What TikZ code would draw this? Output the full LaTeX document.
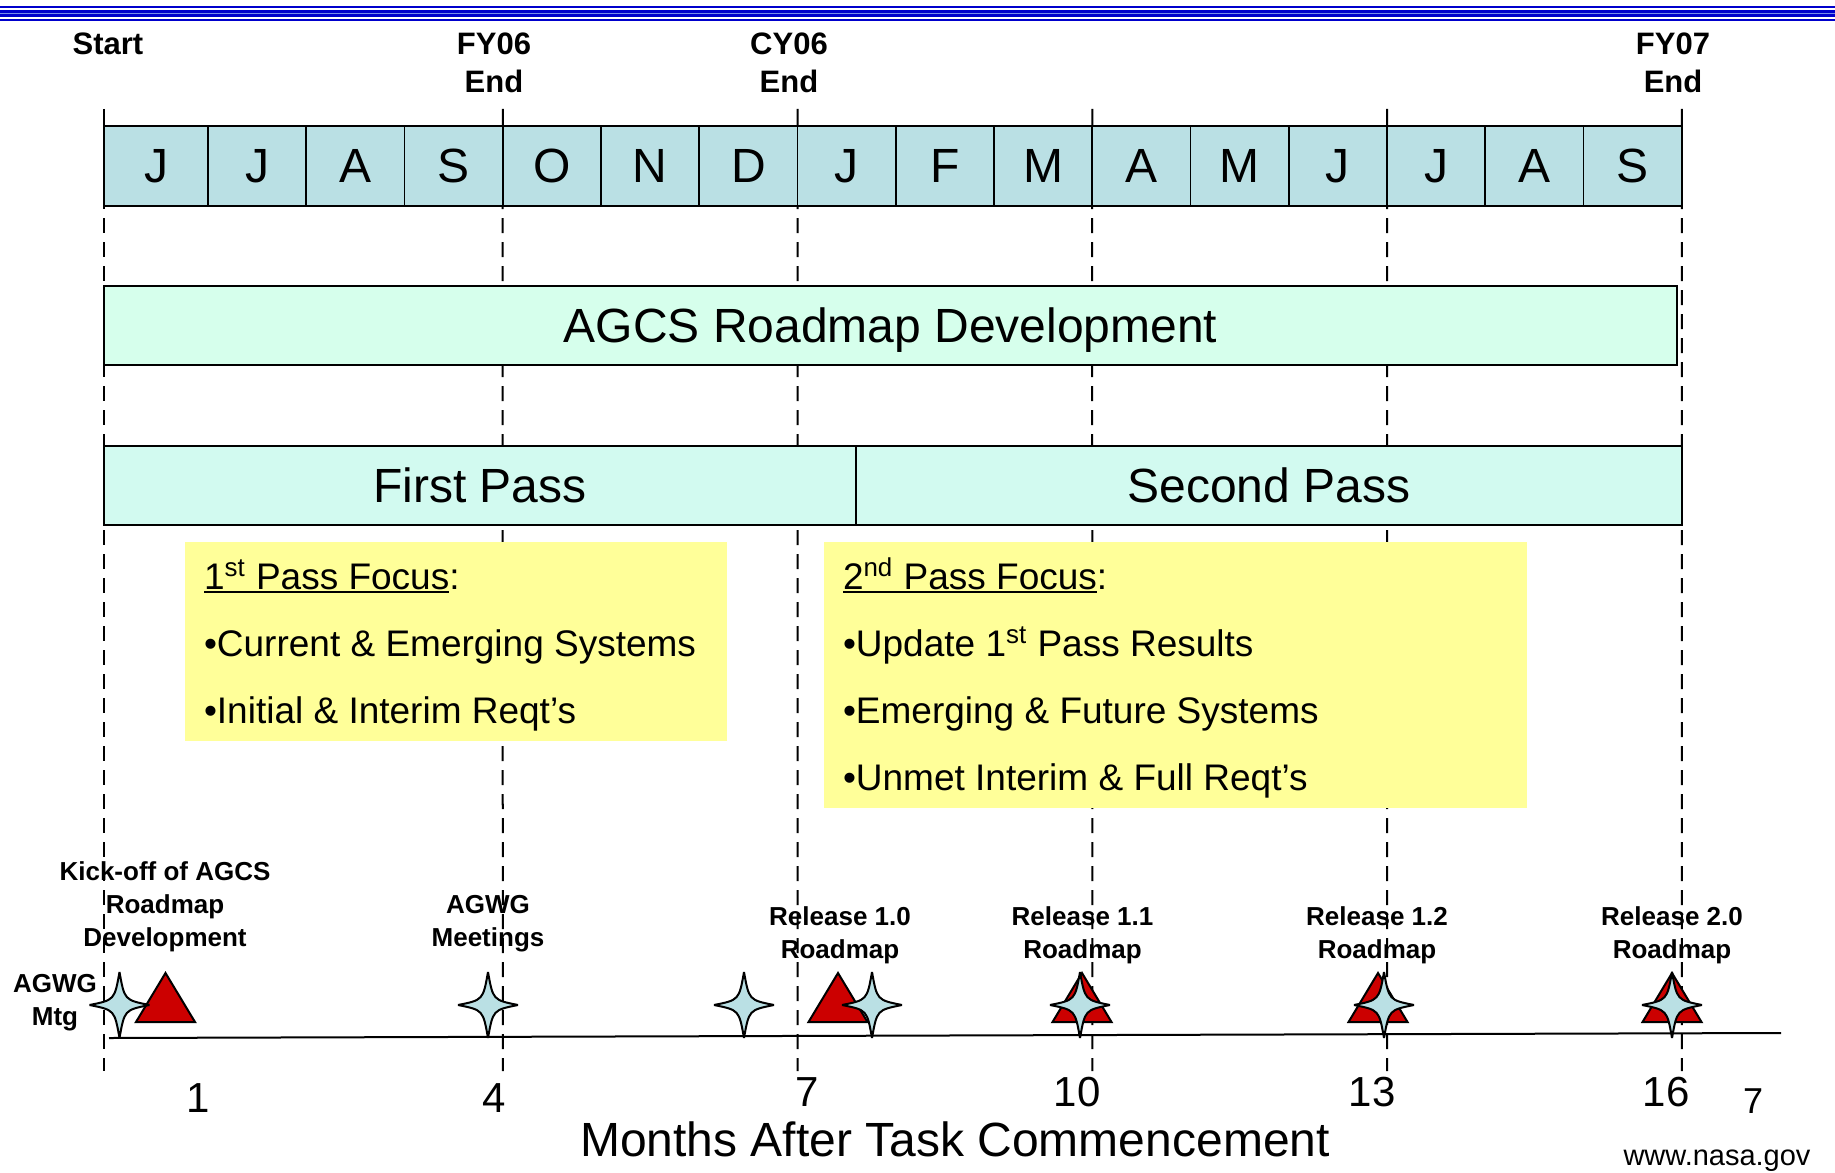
\documentclass[tikz,border=0pt]{standalone}
\usepackage{fontspec}
\setmainfont{Liberation Sans}
\usepackage{tikz}
\pgfdeclarelayer{bg}
\pgfsetlayers{bg,main}
\definecolor{monthblue}{RGB}{186,224,228}
\definecolor{agcsgreen}{RGB}{214,255,236}
\definecolor{passgreen}{RGB}{210,250,240}
\definecolor{focusyellow}{RGB}{255,255,153}
\definecolor{releasered}{RGB}{204,0,0}
\definecolor{rulerblue}{RGB}{0,0,204}
\definecolor{rulerlight}{RGB}{120,140,235}
\newcommand{\passul}[1]{\setbox0\hbox{#1}\rlap{\rule[-2.2pt]{\wd0}{1.4pt}}\box0}
\tikzset{
    every node/.style={inner sep=0pt, outer sep=0pt}
}
\tikzset{
    month/.style={rectangle, draw, line width=0.9pt, fill=monthblue, minimum width=49.125pt, minimum height=40pt, font=\fontsize{24}{28}\selectfont},
    bar/.style={rectangle, draw, line width=1pt, minimum height=39.5pt, text depth=0pt, font=\fontsize{24}{28}\selectfont},
    focusbox/.style={rectangle, fill=focusyellow},
    focustext/.style={anchor=base west, font=\fontsize{18.5}{22}\selectfont},
    heading/.style={align=center, font=\fontsize{15.5}{19}\selectfont\bfseries},
    event/.style={align=center, font=\fontsize{13}{16.4}\selectfont\bfseries},
    monthnum/.style={anchor=base, font=\fontsize{21}{24}\selectfont},
    fiscal/.style={line width=1pt},
    fiscaldash/.style={line width=1pt, dash pattern=on 7.5pt off 4.5pt, dash phase=6pt},
    mtgstar/.pic={
        \draw[line width=1pt, fill=monthblue, line join=miter, miter limit=4] (0,-33) .. controls (5,-5) .. (30,0) .. controls (5,5) .. (0,33) .. controls (-5,5) .. (-30,0) .. controls (-5,-5) .. (0,-33) -- cycle;
    },
    release/.pic={
        \draw[line width=1pt, fill=releasered, line join=miter] (-29.5,0) -- (0,-49) -- (29.5,0) -- cycle;
    }
}

\begin{document}
\begin{tikzpicture}[x=0.5pt, y=-0.5pt]
        \useasboundingbox (0,0) rectangle (1835,1172);
        \draw[rulerblue, line width=1pt] (0,7) -- (1835,7);
        \draw[rulerblue, line width=3.6pt] (0,13.5) -- (1835,13.5);
        \draw[rulerlight, line width=0.6pt] (0,13.5) -- (1835,13.5);
        \draw[rulerblue, line width=1pt] (0,20.3) -- (1835,20.3);
        \node[heading] (start) at (108,44) {Start};
        \node[heading] (fy06) at (494,63) {FY06\\End};
        \node[heading] (cy06) at (789,63) {CY06\\End};
        \node[heading] (fy07) at (1673,63) {FY07\\End};
        \node[month, minimum width=52pt] (m1) at (156,166) {J};
        \node[month] (m2) at (257.1,166) {J};
        \node[month] (m3) at (355.4,166) {A};
        \node[month] (m4) at (453.6,166) {S};
        \node[month] (m5) at (551.9,166) {O};
        \node[month] (m6) at (650.1,166) {N};
        \node[month] (m7) at (748.4,166) {D};
        \node[month] (m8) at (846.6,166) {J};
        \node[month] (m9) at (944.9,166) {F};
        \node[month] (m10) at (1043.1,166) {M};
        \node[month] (m11) at (1141.4,166) {A};
        \node[month] (m12) at (1239.6,166) {M};
        \node[month] (m13) at (1337.9,166) {J};
        \node[month] (m14) at (1436.1,166) {J};
        \node[month] (m15) at (1534.4,166) {A};
        \node[month] (m16) at (1632.6,166) {S};
        \coordinate (t0) at (104,109);
        \coordinate (t1) at (502.75,109);
        \coordinate (t2) at (797.5,109);
        \coordinate (t3) at (1092.25,109);
        \coordinate (t4) at (1387,109);
        \coordinate (t5) at (1681.75,109);
        \coordinate (b0) at (104,1071);
        \coordinate (b1) at (502.75,1071);
        \coordinate (b2) at (797.5,1071);
        \coordinate (b3) at (1092.25,1071);
        \coordinate (b4) at (1387,1071);
        \coordinate (b5) at (1681.75,1071);
        \begin{pgfonlayer}{bg}
                \draw[fiscal] (t0) -- (m1.south west);
                \draw[fiscal] (t1) -- (m4.south east);
                \draw[fiscal] (t2) -- (m7.south east);
                \draw[fiscal] (t3) -- (m10.south east);
                \draw[fiscal] (t4) -- (m13.south east);
                \draw[fiscal] (t5) -- (m16.south east);
                \draw[fiscaldash] (m1.south west) -- (b0);
                \draw[fiscaldash] (m4.south east) -- (b1);
                \draw[fiscaldash] (m7.south east) -- (b2);
                \draw[fiscaldash] (m10.south east) -- (b3);
                \draw[fiscaldash] (m13.south east) -- (b4);
                \draw[fiscaldash] (m16.south east) -- (b5);
        \end{pgfonlayer}
        \node[bar, fill=agcsgreen, minimum width=786.5pt] (agcs) at (890.5,325.5) {AGCS Roadmap Development};
        \node[bar, fill=passgreen, minimum width=376pt] (pass1) at (480,485.5) {First Pass};
        \node[bar, fill=passgreen, minimum width=413pt] (pass2) at (1269,485.5) {Second Pass};
        \node[focusbox, minimum width=271pt, minimum height=99.5pt] (focus1) at (456,641.5) {};
        \node[focusbox, minimum width=351.5pt, minimum height=133pt] (focus2) at (1175.5,675) {};
        \node[focustext] (f1a) at (204,589) {\passul{1\textsuperscript{st} Pass Focus}:};
        \node[focustext] (f1b) at (204,656) {•Current \& Emerging Systems};
        \node[focustext] (f1c) at (204,723) {•Initial \& Interim Reqt’s};
        \node[focustext] (f2a) at (843,589) {\passul{2\textsuperscript{nd} Pass Focus}:};
        \node[focustext] (f2b) at (843,656) {•Update 1\textsuperscript{st} Pass Results};
        \node[focustext] (f2c) at (843,723) {•Emerging \& Future Systems};
        \node[focustext] (f2d) at (843,790) {•Unmet Interim \& Full Reqt’s};
        \node[event] (kickoff) at (165,907) {Kick-off of AGCS\\Roadmap\\Development};
        \node[event] (mtglbl) at (55,1003) {AGWG\\Mtg};
        \node[event] (meetlbl) at (488,924) {AGWG\\Meetings};
        \node[event] (rel10lbl) at (840,935) {Release 1.0\\Roadmap};
        \node[event] (rel11lbl) at (1082.5,935) {Release 1.1\\Roadmap};
        \node[event] (rel12lbl) at (1377,935) {Release 1.2\\Roadmap};
        \node[event] (rel20lbl) at (1672,935) {Release 2.0\\Roadmap};
        \coordinate (axl) at (109,1038);
        \coordinate (axr) at (1781,1033);
        \draw[line width=1pt] (axl) -- (axr);
        \pic (rel00) at (165.5,1022) {release};
        \pic (rel10) at (838,1022) {release};
        \pic (rel11) at (1082,1022) {release};
        \pic (rel12) at (1378,1022) {release};
        \pic (rel20) at (1672,1022) {release};
        \pic (mtg1) at (119.5,1005) {mtgstar};
        \pic (mtg2) at (488,1005) {mtgstar};
        \pic (mtg3) at (744,1005) {mtgstar};
        \pic (mtg4) at (872,1005) {mtgstar};
        \pic (mtg5) at (1080,1005) {mtgstar};
        \pic (mtg6) at (1384,1005) {mtgstar};
        \pic (mtg7) at (1672,1005) {mtgstar};
        \node[monthnum] (n1) at (198,1112) {1};
        \node[monthnum] (n4) at (494,1112) {4};
        \node[monthnum] (n7) at (807,1106) {7};
        \node[monthnum] (n10) at (1077,1106) {10};
        \node[monthnum] (n13) at (1372,1106) {13};
        \node[monthnum] (n16) at (1666,1106) {16};
        \node[anchor=base, font=\fontsize{18}{22}\selectfont] (page) at (1753,1113) {7};
        \node[anchor=base, font=\fontsize{24}{28}\selectfont] (axtitle) at (955,1156) {Months After Task Commencement};
        \node[anchor=base, font=\fontsize{14.5}{17}\selectfont] (web) at (1717,1165) {www.nasa.gov};
\end{tikzpicture}
\end{document}
